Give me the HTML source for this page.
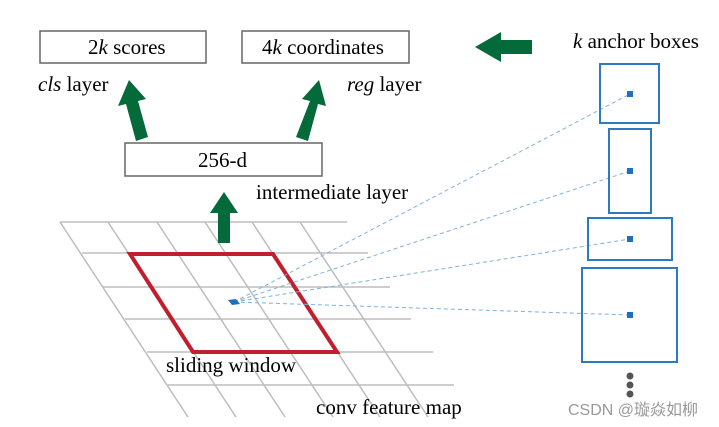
<!DOCTYPE html>
<html><head><meta charset="utf-8"><style>
html,body{margin:0;padding:0;background:#fff;}
svg{display:block;}
text{font-family:"Liberation Serif",serif;font-size:21px;fill:#000;}
</style></head><body>
<svg width="719" height="427" viewBox="0 0 719 427" xmlns="http://www.w3.org/2000/svg">
<g stroke="#bdbdbd" stroke-width="1.5" fill="none">
<line x1="60" y1="222" x2="347" y2="222"/>
<line x1="82" y1="253" x2="368" y2="253"/>
<line x1="103" y1="287" x2="390" y2="287"/>
<line x1="125" y1="319" x2="411" y2="319"/>
<line x1="147" y1="352" x2="433" y2="352"/>
<line x1="168" y1="385" x2="454" y2="385"/>
<line x1="60" y1="222" x2="188" y2="417"/>
<line x1="108" y1="222" x2="236" y2="417"/>
<line x1="157" y1="222" x2="285" y2="417"/>
<line x1="205" y1="222" x2="333" y2="417"/>
<line x1="252" y1="222" x2="380" y2="417"/>
<line x1="300" y1="222" x2="428" y2="417"/>
</g>
<polygon points="130,254 273,254 337,352 193,352" fill="none" stroke="#c0202e" stroke-width="4"/>
<g stroke="#7fb2dd" stroke-width="1" stroke-dasharray="4,3" fill="none">
<line x1="234" y1="302" x2="630" y2="94"/>
<line x1="234" y1="302" x2="630" y2="171"/>
<line x1="234" y1="302" x2="630" y2="239"/>
<line x1="234" y1="302" x2="630" y2="315"/>
</g>
<polygon points="228,300 236,299 240,304 232,305" fill="#1f6fbf"/>
<g stroke="#2e7ac0" stroke-width="2" fill="none">
<rect x="600" y="64" width="59" height="59"/>
<rect x="609" y="129" width="42" height="84"/>
<rect x="588" y="218" width="84" height="42"/>
<rect x="582" y="268" width="95" height="94"/>
</g>
<g fill="#1f6fbf">
<rect x="627" y="91" width="6" height="6"/>
<rect x="627" y="168" width="6" height="6"/>
<rect x="627" y="236" width="6" height="6"/>
<rect x="627" y="312" width="6" height="6"/>
</g>
<g fill="#555"><circle cx="630" cy="376" r="3.5"/><circle cx="630" cy="385" r="3.5"/><circle cx="630" cy="394" r="3.5"/></g>
<g fill="#fff" stroke="#666" stroke-width="1.5">
<rect x="40" y="31" width="166" height="32"/>
<rect x="242" y="31" width="167" height="32"/>
<rect x="125" y="143" width="197" height="33"/>
</g>
<text x="88" y="54"><tspan>2</tspan><tspan font-style="italic">k</tspan> scores</text>
<text x="262" y="54"><tspan>4</tspan><tspan font-style="italic">k</tspan> coordinates</text>
<text x="198" y="167">256-d</text>
<text x="38" y="91"><tspan font-style="italic">cls</tspan> layer</text>
<text x="347" y="91"><tspan font-style="italic">reg</tspan> layer</text>
<text x="256" y="199">intermediate layer</text>
<text x="573" y="48"><tspan font-style="italic">k</tspan> anchor boxes</text>
<text x="166" y="372">sliding window</text>
<text x="316" y="414">conv feature map</text>
<g fill="#056a3a">
<polygon points="136,141 148,137 138,101 146,99 129,80 118,106 126,104"/>
<polygon points="296,137 308,141 318,104 326,106 319,80 302,99 310,101"/>
<polygon points="218,243 230,243 230,213 238,213 224,192 210,213 218,213"/>
<polygon points="532,40 532,54 501,54 501,62 475,47 501,32 501,40"/>
</g>
<text x="568" y="415" style="font-family:'Liberation Sans','Noto Sans CJK SC',sans-serif;font-size:16px;fill:#999">CSDN @璇焱如柳</text>
</svg>
</body></html>
